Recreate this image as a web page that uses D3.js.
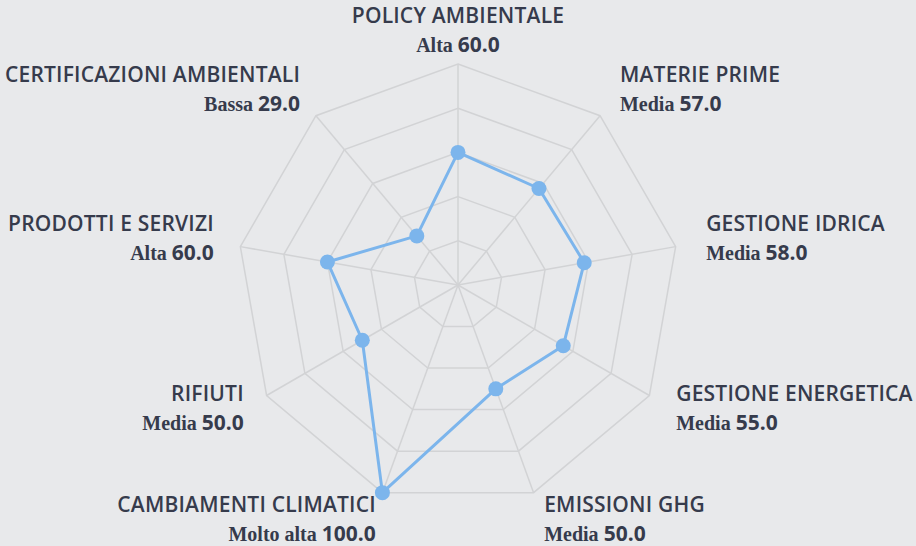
<!DOCTYPE html>
<html>
<head>
<meta charset="utf-8">
<script src="https://cdn.jsdelivr.net/npm/d3@7"></script>
<style>
  html, body { margin: 0; padding: 0; background: #e8e9eb; }
  svg { display: block; }
  .name { font-family: "Open Sans", sans-serif; font-weight: 600; font-size: 21px; fill: #363b4c; letter-spacing: 0.2px; }
  .level { font-family: "Liberation Serif", "DejaVu Serif", serif; font-weight: 700; font-size: 20px; fill: #363b4c; }
  .score { font-family: "Open Sans", sans-serif; font-weight: 700; font-size: 21px; fill: #363b4c; }
</style>
</head>
<body>
<div id="container"></div>
<script>
/* CONSTANTS AND GLOBALS */
const width = 916,
      height = 546,
      cx = 458,
      cy = 285,
      radius = 221,
      labelRadius = 252;

/* DATA */
const categories = [
  "POLICY AMBIENTALE",
  "MATERIE PRIME",
  "GESTIONE IDRICA",
  "GESTIONE ENERGETICA",
  "EMISSIONI GHG",
  "CAMBIAMENTI CLIMATICI",
  "RIFIUTI",
  "PRODOTTI E SERVIZI",
  "CERTIFICAZIONI AMBIENTALI"
];
const values = [60, 57, 58, 55, 50, 100, 50, 60, 29];
const levels = ["Alta", "Media", "Media", "Media", "Media", "Molto alta", "Media", "Alta", "Bassa"];
const rings = [20, 40, 60, 80, 100];

const n = categories.length;

// + SCALES
const rScale = d3.scaleLinear()
  .domain([0, 100])
  .range([0, radius]);

const angle = d3.scaleLinear()
  .domain([0, n])
  .range([0, 2 * Math.PI]);

const point = (i, r) => [cx + r * Math.sin(angle(i)), cy - r * Math.cos(angle(i))];

// + CREATE SVG ELEMENT
const svg = d3.select("#container")
  .append("svg")
  .attr("width", width)
  .attr("height", height);

// grid rings (polygons)
const ringLine = d3.line();
svg.append("g")
  .selectAll("path")
  .data(rings)
  .join("path")
    .attr("d", v => ringLine(d3.range(n).map(i => point(i, rScale(v)))) + "Z")
    .attr("fill", "none")
    .attr("stroke", "#d2d3d5")
    .attr("stroke-width", 1.5);

// spokes
svg.append("g")
  .selectAll("line")
  .data(d3.range(n))
  .join("line")
    .attr("x1", cx)
    .attr("y1", cy)
    .attr("x2", i => point(i, radius)[0])
    .attr("y2", i => point(i, radius)[1])
    .attr("stroke", "#d2d3d5")
    .attr("stroke-width", 1.5);

// series
const radarLine = d3.lineRadial()
  .angle((d, i) => angle(i))
  .radius(d => rScale(d))
  .curve(d3.curveLinearClosed);

svg.append("path")
  .datum(values)
  .attr("transform", `translate(${cx},${cy})`)
  .attr("d", radarLine)
  .attr("fill", "none")
  .attr("stroke", "#7cb5ec")
  .attr("stroke-width", 3)
  .attr("stroke-linejoin", "round");

svg.append("g")
  .selectAll("circle")
  .data(values)
  .join("circle")
    .attr("cx", (d, i) => point(i, rScale(d))[0])
    .attr("cy", (d, i) => point(i, rScale(d))[1])
    .attr("r", 7.5)
    .attr("fill", "#7cb5ec");

// labels
const anchorFor = i => {
  const s = Math.sin(angle(i));
  if (Math.abs(s) < 0.01) return "middle";
  return s > 0 ? "start" : "end";
};

const labels = svg.append("g")
  .selectAll("g")
  .data(categories)
  .join("g")
    .attr("transform", (d, i) => {
      const [x, y] = point(i, labelRadius);
      // left side labels sit a touch closer in
      return `translate(${anchorFor(i) === "end" ? x + 4 : x},${y})`;
    })
    .attr("text-anchor", (d, i) => anchorFor(i));

labels.append("text")
  .attr("class", "name")
  .attr("y", -10)
  .text(d => d);

const second = labels.append("text")
  .attr("y", 19);
second.append("tspan")
  .attr("class", "level")
  .text((d, i) => levels[i] + " ");
second.append("tspan")
  .attr("class", "score")
  .text((d, i) => values[i].toFixed(1));
</script>
</body>
</html>
